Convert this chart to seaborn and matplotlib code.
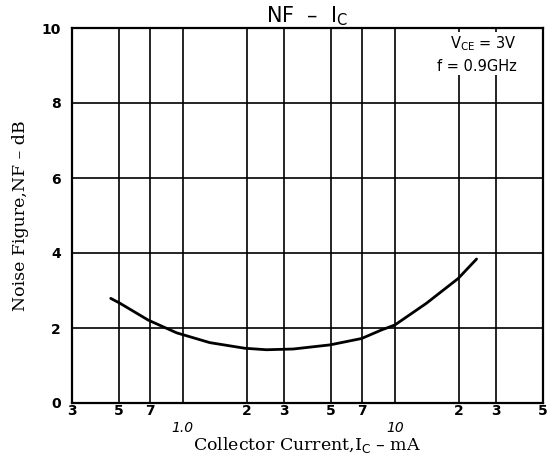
import matplotlib
matplotlib.use("Agg")
import matplotlib.pyplot as plt
import seaborn as sns
import pandas as pd
from matplotlib.ticker import FixedLocator, FixedFormatter

# Data
ic_ma = [0.457, 0.505, 0.687, 0.936, 1.34, 1.96, 2.48, 3.32, 4.95, 6.97, 8.67, 10.0, 14.1, 19.9, 24.3]
nf_db = [2.79, 2.66, 2.21, 1.87, 1.61, 1.46, 1.42, 1.44, 1.55, 1.72, 1.95, 2.08, 2.66, 3.32, 3.84]

major_x = [1, 10]
major_x_labels = ["1.0", "10"]
minor_x = [0.3, 0.5, 0.7, 2, 3, 5, 7, 20, 30, 50]
minor_x_labels = ["3", "5", "7", "2", "3", "5", "7", "2", "3", "5"]
y_ticks = [0, 2, 4, 6, 8, 10]

sns.set_theme(style="white")
plt.rcParams['font.family'] = ['DejaVu Sans']
plt.rcParams.update({"text.color": "black", "axes.labelcolor": "black",
                     "xtick.color": "black", "ytick.color": "black"})

fig = plt.figure(figsize=(5.47, 4.63), dpi=100)
ax = fig.add_axes([72/547, 60/463, 471/547, 375/463])

df = pd.DataFrame({"Ic": ic_ma, "NF": nf_db})
sns.lineplot(data=df, x="Ic", y="NF", ax=ax, color="black", linewidth=2.0, zorder=5)

ax.set_xscale("log")
ax.set_xlim(0.3, 50)
ax.set_ylim(0, 10)

# grid
for xv in [0.5, 0.7, 1, 2, 3, 5, 7, 10, 20, 30]:
    ax.axvline(xv, color="black", linewidth=1.2, zorder=1)
for yv in [2, 4, 6, 8]:
    ax.axhline(yv, color="black", linewidth=1.2, zorder=1)

ax.xaxis.set_major_locator(FixedLocator(major_x))
ax.xaxis.set_major_formatter(FixedFormatter(major_x_labels))
ax.xaxis.set_minor_locator(FixedLocator(minor_x))
ax.xaxis.set_minor_formatter(FixedFormatter(minor_x_labels))
ax.tick_params(axis="x", which="major", length=0, pad=13, labelsize=10, labelcolor="black")
ax.tick_params(axis="x", which="minor", length=0, pad=1, labelsize=10, labelcolor="black")
for lab in ax.get_xticklabels(minor=True):
    lab.set_fontweight("bold")
for lab in ax.get_xticklabels():
    lab.set_fontstyle("italic")

ax.set_yticks(y_ticks)
ax.set_yticklabels([str(v) for v in y_ticks], fontweight="bold", fontsize=10)
ax.tick_params(axis="y", length=0, pad=8, labelcolor="black")

for s in ax.spines.values():
    s.set_color("black")
    s.set_linewidth(1.6)

ax.set_xlabel("Collector Current,I$_\\mathrm{C}$ – mA", family="DejaVu Serif", fontsize=12.5,
              labelpad=0, color="black")
ax.set_ylabel("Noise Figure,NF – dB", family="DejaVu Serif", fontsize=12.5, labelpad=9,
              color="black")
ax.set_title("NF  –  I$_\\mathrm{C}$", fontsize=15, pad=4, color="black")

ax.text(0.945, 0.982, "V$_{\\mathrm{CE}}$ = 3V\nf = 0.9GHz", transform=ax.transAxes,
        ha="right", va="top", fontsize=10.5, linespacing=1.45, color="black",
        bbox=dict(facecolor="white", edgecolor="none", pad=1), zorder=6)

fig.savefig("out.png", dpi=100)
